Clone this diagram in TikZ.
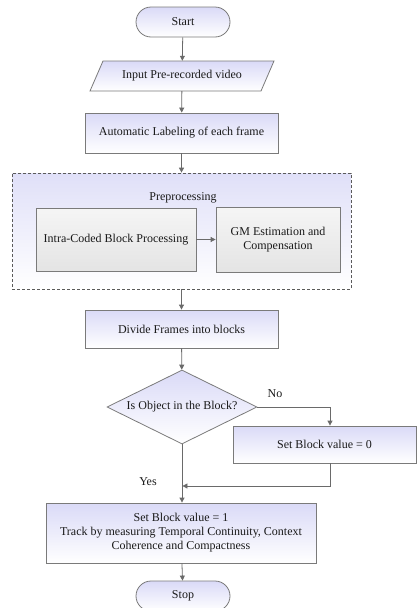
\documentclass[tikz,border=0pt]{standalone}
\usepackage{fontspec}
\setmainfont{Liberation Serif}
\usetikzlibrary{shapes.geometric,arrows.meta}
\definecolor{lav}{HTML}{DADAF7}
\definecolor{edgec}{HTML}{7A7A7A}
\definecolor{arrc}{HTML}{6A6A6A}
\definecolor{dashc}{HTML}{5A5A5A}
\definecolor{graytop}{HTML}{F5F5F5}
\definecolor{graybot}{HTML}{E4E4E4}
\definecolor{txt}{HTML}{1A1A1A}
\begin{document}
\begin{tikzpicture}[x=1pt,y=-1pt,
  font=\fontsize{12}{14}\selectfont, text=txt,
  box/.style={draw=edgec, line width=0.8pt, top color=lav, bottom color=white, align=center, inner sep=0pt},
  gbox/.style={draw=edgec, line width=0.8pt, top color=graytop, bottom color=graybot, align=center, inner sep=0pt},
  term/.style={box, rounded corners=15pt},
  conn/.style={draw=arrc, line width=0.8pt, -{Triangle[length=5pt,width=5pt]}},
  plain/.style={inner sep=0pt}]
\useasboundingbox (0,0) rectangle (417,608);
% Start
\node[term, minimum width=94pt, minimum height=30pt] (start) at (183,22) {Start};
% Input parallelogram
\path[draw=edgec, line width=0.8pt, top color=lav, bottom color=white] (103,61) -- (274,61) -- (261,91) -- (90,91) -- cycle;
\node[plain, minimum width=171pt, minimum height=30pt] (input) at (182,76) {Input Pre-recorded video};
% Automatic labeling
\node[box, minimum width=193pt, minimum height=40pt] (auto) at (181.5,133) {Automatic Labeling of each frame};
% Preprocessing group
\node[draw=dashc, line width=0.7pt, dash pattern=on 3pt off 2pt, top color=lav!85, bottom color=white, minimum width=339pt, minimum height=116pt, inner sep=0pt] (pre) at (181.5,231) {};
\node[plain] (prelabel) at (183,198) {Preprocessing};
\node[gbox, minimum width=160pt, minimum height=63pt] (intra) at (116,239.5) {Intra-Coded Block Processing};
\node[gbox, minimum width=124pt, minimum height=65pt] (gm) at (278,239.5) {GM Estimation and\\Compensation};
% Divide
\node[box, minimum width=193pt, minimum height=38pt] (divide) at (181.5,329) {Divide Frames into blocks};
% Decision
\node[box, diamond, shape aspect=2, minimum width=150pt, minimum height=74pt] (dec) at (182,407) {Is Object in the Block?};
% Set 0
\node[box, minimum width=183pt, minimum height=37pt] (set0) at (324.5,444.5) {Set Block value = 0};
% Set 1
\node[box, minimum width=270pt, minimum height=60pt] (set1) at (181,533) {Set Block value = 1\\Track by measuring Temporal Continuity, Context\\Coherence and Compactness};
% Stop
\node[term, minimum width=94pt, minimum height=30pt] (stop) at (183,596) {Stop};
% labels
\node[plain] (nolabel) at (275,394) {No};
\node[plain] (yeslabel) at (148,482) {Yes};
% connectors
\coordinate (nocorner) at (330,407);
\coordinate (join) at (182.4,486);
\draw[conn] (start) -- (input);
\draw[conn] (input) -- (auto);
\draw[conn] (auto) -- (pre);
\draw[conn] (intra) -- (gm);
\draw[conn] (pre) -- (divide);
\draw[conn] (divide) -- (dec);
\draw[conn] (dec.east) -- (nocorner) -- (nocorner |- set0.north);
\draw[conn] (dec.south) -- (dec.south |- set1.north);
\draw[conn] (nocorner |- set0.south) |- (join);
\draw[conn] (set1) -- (stop);
\end{tikzpicture}
\end{document}
